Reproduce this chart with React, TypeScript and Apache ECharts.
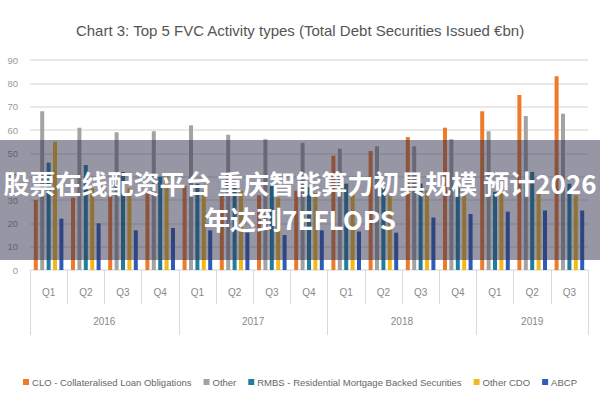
import React, { useEffect, useRef } from "react";
import * as echarts from "echarts";

const quarters = ["Q1", "Q2", "Q3", "Q4", "Q1", "Q2", "Q3", "Q4", "Q1", "Q2", "Q3", "Q4", "Q1", "Q2", "Q3"];
const years = ["2016", "2016", "2016", "2016", "2017", "2017", "2017", "2017", "2018", "2018", "2018", "2018", "2019", "2019", "2019"];

const clo = [30, 31, 32, 33, 36, 33, 32, 34, 49, 51, 57, 61, 68, 75, 83];
const other = [68, 61, 59, 59.5, 62, 58, 56, 54.5, 52, 53, 53, 56, 59.5, 66, 67];
const rmbs = [46, 45, 42, 40, 37, 36, 36, 35.5, 37, 35.5, 37, 36, 33.5, 42, 37];
const otherCdo = [55, 35, 35, 40, 34, 34, 31, 33, 33, 32, 34, 33, 33, 34, 32];
const abcp = [22, 20, 17, 18, 17, 16, 15, 17, 16.5, 16, 22.5, 24, 25, 25.5, 25.5];

const seriesNames = [
  "CLO - Collateralised Loan Obligations",
  "Other",
  "RMBS - Residential Mortgage Backed Securities",
  "Other CDO",
  "ABCP",
];
const seriesData = [clo, other, rmbs, otherCdo, abcp];
const colors = ["#EE7A2A", "#A3A3A3", "#237E9E", "#F2B81C", "#2F5CB8"];

const yearLabelIndex = [1, 5, 9, 13];
const yearBoundaryIndex = [0, 4, 8, 12];

const FONT = "'Liberation Sans', sans-serif";

export default function App() {
  const ref = useRef<HTMLDivElement>(null);
  useEffect(() => {
    if (!ref.current) return;
    const chart = echarts.init(ref.current, null, { renderer: "svg" });
    chart.setOption({
      animation: false,
      backgroundColor: "#ffffff",
      color: colors,
      title: {
        text: "Chart 3: Top 5 FVC Activity types (Total Debt Securities Issued €bn)",
        left: "center",
        top: 18,
        textStyle: { fontFamily: FONT, fontSize: 15, fontWeight: "normal", color: "#555555" },
      },
      legend: {
        bottom: 8,
        left: "center",
        itemWidth: 6,
        itemHeight: 6,
        itemGap: 12,
        icon: "rect",
        textStyle: { fontFamily: FONT, fontSize: 9.5, color: "#666", padding: [0, 0, 0, -2] },
        data: seriesNames,
      },
      grid: { left: 30, right: 12, top: 60, bottom: 130, containLabel: false },
      xAxis: [
        {
          type: "category",
          data: quarters,
          position: "bottom",
          axisLine: { show: false },
          axisTick: { show: true, length: 34, interval: 0, lineStyle: { color: "#d9d9d9" } },
          axisLabel: { interval: 0, margin: 17, fontFamily: FONT, fontSize: 10, color: "#888" },
        },
        {
          type: "category",
          data: years,
          position: "bottom",
          axisLine: { show: false },
          axisTick: {
            show: true,
            length: 65,
            interval: (i: number) => yearBoundaryIndex.indexOf(i) >= 0,
            lineStyle: { color: "#d9d9d9" },
          },
          axisLabel: {
            interval: (i: number) => yearLabelIndex.indexOf(i) >= 0,
            margin: 46,
            fontFamily: FONT,
            fontSize: 10,
            color: "#888",
            formatter: (v: string, i: number) => (i === 13 ? "{b|" + v + "}" : "{a|" + v + "}"),
            rich: {
              a: { padding: [0, 0, 0, 37], fontFamily: FONT, fontSize: 10, color: "#888" },
              b: { fontFamily: FONT, fontSize: 10, color: "#888" },
            },
          },
        },
      ],
      yAxis: {
        type: "value",
        min: 0,
        max: 90,
        interval: 10,
        axisLine: { show: false },
        axisTick: { show: false },
        axisLabel: { margin: 12, fontFamily: FONT, fontSize: 9.5, color: "#999" },
        splitLine: { lineStyle: { color: "#e2e2e2", width: 1.5 } },
      },
      series: seriesNames.map((name, k) => ({
        name,
        type: "bar",
        data: seriesData[k],
        barWidth: 4,
        barGap: "60%",
        itemStyle: { color: colors[k] },
      })),
      graphic: [
        {
          type: "rect",
          z: 100,
          shape: { x: 0, y: 140, width: 600, height: 120 },
          style: { fill: "rgba(45,45,75,0.5)" },
        },
        {
          type: "text",
          z: 101,
          x: 300,
          y: 200,
          style: {
            text: "股票在线配资平台 重庆智能算力初具规模 预计2026\n年达到7EFLOPS",
            textAlign: "center",
            textVerticalAlign: "middle",
            font: "bold 26px 'Noto Sans CJK SC'",
            lineHeight: 36,
            fill: "#ffffff",
          },
        },
      ],
    });
    return () => chart.dispose();
  }, []);
  return (
    <div
      ref={ref}
      style={{ position: "fixed", left: 0, top: 0, width: 600, height: 400 }}
    />
  );
}
